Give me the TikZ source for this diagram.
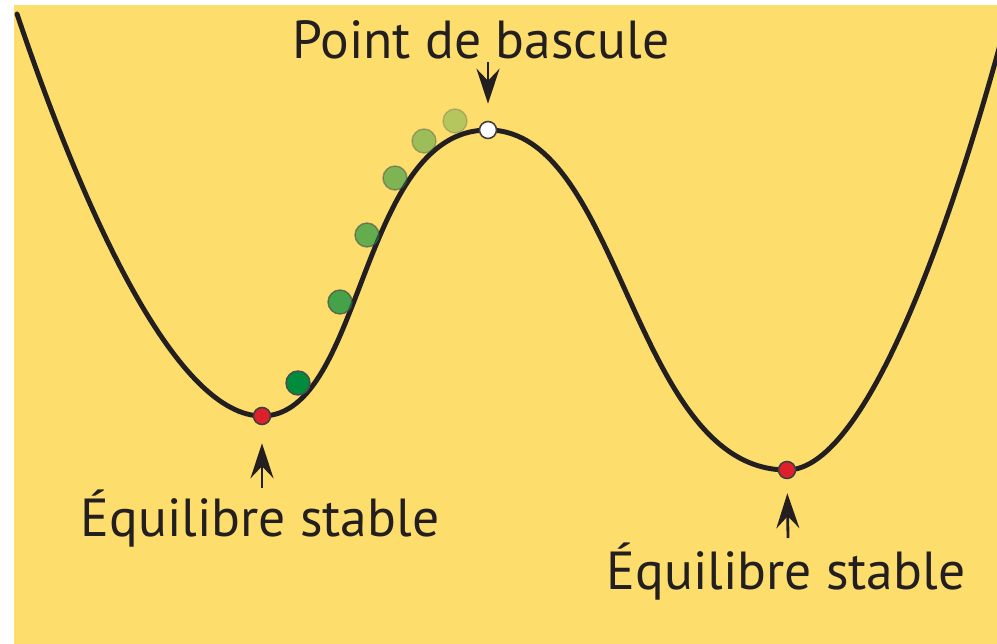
\documentclass[tikz,border=0pt]{standalone}
\usepackage{fontspec}
\setmainfont{PT Sans}
\usetikzlibrary{arrows.meta}

\definecolor{fond}{RGB}{253,221,108}
\definecolor{vert}{RGB}{0,140,60}
\definecolor{rouge}{RGB}{222,32,44}
\definecolor{encre}{RGB}{35,31,32}

\begin{document}
\begin{tikzpicture}[
  x=0.02cm, y=-0.02cm,
  courbe/.style={draw=encre, line width=2.8pt, line cap=round},
  bille/.style={circle, draw=black!70, line width=0.8pt, fill=vert,
                minimum size=0.48cm, inner sep=0pt},
  etat/.style={circle, draw=black!75, line width=0.9pt,
               minimum size=0.34cm, inner sep=0pt},
  legende/.style={font=\fontsize{30.5}{36}\selectfont, text=encre, anchor=base},
  fleche/.style={-{Stealth[length=0.7cm, width=0.46cm, inset=0.24cm]},
                 draw=encre, fill=encre, line width=1.6pt}
]
  \useasboundingbox (0,0) rectangle (997,644);
  \fill[fond] (14,5) rectangle (997,644);

  % la courbe
  \begin{scope}
    \clip (14,5) rectangle (997,644);
    \draw[courbe] (17,14) .. controls (90,230) and (180,416) .. (262,416)
      .. controls (364,416) and (359,130) .. (488,130)
      .. controls (622,130) and (632,470) .. (787,470)
      .. controls (870,470) and (960,200) .. (1012,0);
  \end{scope}

  % billes qui montent
  \foreach \x/\y/\o [count=\i] in {298/383/1, 340/302/0.72, 367/235/0.6,
                                   395/178/0.5, 424/141/0.38, 455/121/0.28}
    \node[bille, opacity=\o] (bille\i) at (\x,\y) {};

  \node[etat, fill=rouge] (basA) at (262,416) {};
  \node[etat, fill=rouge] (basB) at (787,470) {};
  \node[etat, fill=white] (sommet) at (488,130) {};

  \node[legende] (txtSommet) at (481,59) {Point de bascule};
  \node[legende] (txtA) at (260,537) {Équilibre stable};
  \node[legende] (txtB) at (786,590) {Équilibre stable};

  \coordinate (queueSommet) at (488,62);
  \coordinate (queueA) at (262,488);
  \coordinate (queueB) at (788,538);

  \draw[fleche, shorten >=0.34cm] (queueSommet) -- (sommet);
  \draw[fleche, shorten >=0.36cm] (queueA) -- (basA);
  \draw[fleche, shorten >=0.28cm] (queueB) -- (basB);
\end{tikzpicture}
\end{document}
